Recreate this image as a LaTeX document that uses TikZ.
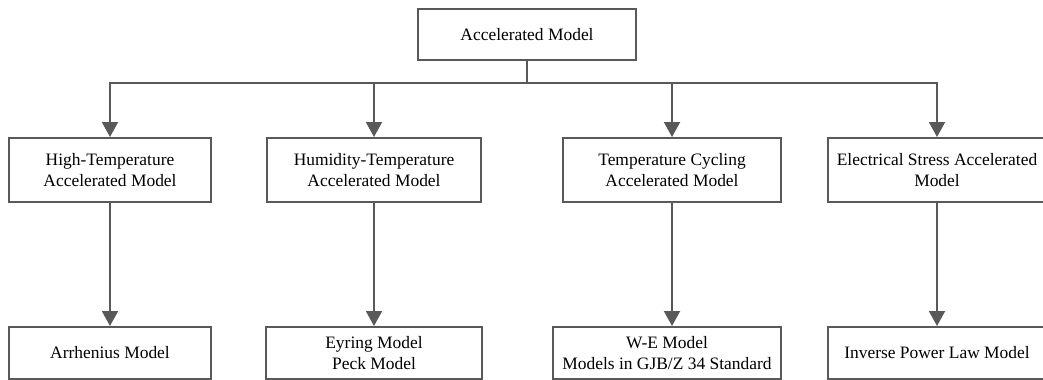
\documentclass[tikz,border=0pt]{standalone}
\usepackage{fontspec}
\setmainfont{Liberation Serif}
\usetikzlibrary{arrows.meta}
\definecolor{linegray}{RGB}{89,89,89}
\begin{document}
\begin{tikzpicture}[x=0.025cm,y=-0.025cm,
		box/.style={draw=linegray,line width=1.4pt,rectangle,align=center,inner sep=0pt,
			font=\fontsize{12.4}{14.5}\selectfont},
		link/.style={draw=linegray,line width=1.4pt,-{Triangle[length=0.375cm,width=0.4cm]}}]
			\useasboundingbox (0,0) rectangle (1043,380);
			% top
			\node[box,minimum width=5.45cm,minimum height=1.275cm] (top) at (527,34.5) {Accelerated Model};
			% second row
			\node[box,minimum width=5.025cm,minimum height=1.6cm] (b1) at (110,170) {High-Temperature\\Accelerated Model};
			\node[box,minimum width=5.35cm,minimum height=1.6cm] (b2) at (374,170) {Humidity-Temperature\\Accelerated Model};
			\node[box,minimum width=5.45cm,minimum height=1.6cm] (b3) at (672,170) {Temperature Cycling\\Accelerated Model};
			\node[box,minimum width=5.45cm,minimum height=1.6cm] (b4) at (937,170) {Electrical Stress Accelerated\\Model};
			% third row
			\node[box,minimum width=5.025cm,minimum height=1.3cm] (c1) at (110,353) {Arrhenius Model};
			\node[box,minimum width=5.375cm,minimum height=1.3cm] (c2) at (374,353) {Eyring Model\\Peck Model};
			\node[box,minimum width=5.7cm,minimum height=1.3cm] (c3) at (667,353) {W-E Model\\Models in GJB/Z 34 Standard};
			\node[box,minimum width=5.45cm,minimum height=1.3cm] (c4) at (937,353) {Inverse Power Law Model};
			% links
			\coordinate (bus) at (527,83);
			\draw[linegray,line width=1.4pt] (top.south) -- (bus);
			\draw[link] (bus) -| (b1.north);
			\draw[link] (bus) -| (b2.north);
			\draw[link] (bus) -| (b3.north);
			\draw[link] (bus) -| (b4.north);
			\draw[link] (b1.south) -- (c1.north);
			\draw[link] (b2.south) -- (c2.north);
			\draw[link] (b3.south) -- (b3.south |- c3.north);
			\draw[link] (b4.south) -- (c4.north);
		\end{tikzpicture}
\end{document}
